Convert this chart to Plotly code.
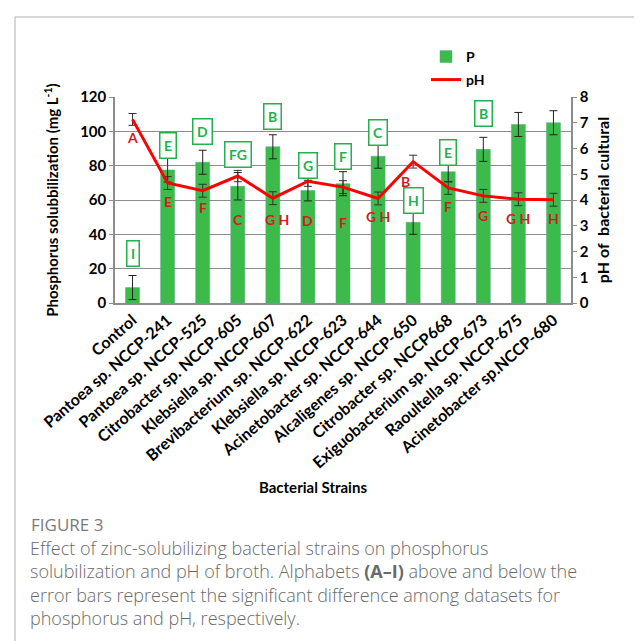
import plotly.graph_objects as go

strains = ["Control", "Pantoea sp. NCCP-241", "Pantoea sp. NCCP-525", "Citrobacter sp. NCCP-605",
           "Klebsiella sp. NCCP-607", "Brevibacterium sp. NCCP-622", "Klebsiella sp. NCCP-623",
           "Acinetobacter sp. NCCP-644", "Alcaligenes sp. NCCP-650", "Citrobacter sp. NCCP668",
           "Exiguobacterium sp. NCCP-673", "Raoultella sp. NCCP-675", "Acinetobacter sp.NCCP-680"]
p_values = [9, 77.5, 82, 68, 91, 65.5, 69.5, 85.5, 47, 76.5, 89.5, 104, 105]
p_err = [7, 7, 7, 8, 7, 6, 7, 7, 7, 6, 7, 7, 7]
ph_values = [7.13, 4.66, 4.36, 4.93, 4.07, 4.73, 4.50, 4.06, 5.49, 4.47, 4.16, 4.03, 4.01]
ph_err = [0.23, 0.25, 0.25, 0.22, 0.25, 0.2, 0.25, 0.25, 0.25, 0.25, 0.25, 0.25, 0.25]
p_letters = ["I", "E", "D", "FG", "B", "G", "F", "C", "H", "E", "B", "A", "A"]
ph_letters = ["A", "E", "F", "C", "G H", "D", "F", "G H", "B", "F", "G", "G H", "H"]

# label placement (styling): gap above P error bar top (P units), label height for pH letters (pH units)
p_label_gap = [13, 7.5, 10.8, 10.5, 10.5, 8.5, 9, 7, 6, 5, 13.8, 10.6, 8.3]
ph_label_y = [6.42, 3.93, 3.7, 3.24, 3.24, 3.22, 3.11, 3.37, 4.71, 3.74, 3.41, 3.29, 3.27]
ph_label_xshift = [0, 0, 0, 0, 4, 0, 0, 0, -8, 0, 0, 0, 0]

FONT = "Lato"
GREEN = "#3cbb4b"
LGREEN = "#22b14c"
RED = "#d01c1c"

fig = go.Figure()
fig.add_trace(go.Bar(
    x=strains, y=p_values, name="P", legend="legend",
    marker=dict(color=GREEN, line=dict(color="#5aa88a", width=0.5)),
    error_y=dict(type="data", array=p_err, color="#222222", thickness=1, width=4),
))
fig.add_trace(go.Scatter(
    x=strains, y=ph_values, name="pH", yaxis="y2", mode="lines", legend="legend2",
    line=dict(color="#ff0000", width=3),
    error_y=dict(type="data", array=ph_err, color="#333333", thickness=1, width=4),
))

annotations = []
for s, v, e, g, t in zip(strains, p_values, p_err, p_label_gap, p_letters):
    annotations.append(dict(
        x=s, y=v + e + g, xref="x", yref="y", text=t, showarrow=False,
        font=dict(family=FONT, size=14, color=LGREEN, weight="bold"),
        bordercolor=LGREEN, borderwidth=1.5, borderpad=3.5, bgcolor="white",
    ))
for s, yv, xs, t in zip(strains, ph_label_y, ph_label_xshift, ph_letters):
    annotations.append(dict(
        x=s, y=yv, xref="x", yref="y2", text=t, showarrow=False, xshift=xs,
        font=dict(family=FONT, size=14, color=RED, weight="bold"),
    ))

L, R, T, B = 107, 563, 89, 295
W = R - L
H = B - T


def px(x):
    return (x - L) / W


def py(y):
    return (B - y) / H


annotations.append(dict(
    x=px(305), y=py(479), xref="paper", yref="paper", text="<b>Bacterial Strains</b>",
    xanchor="center", yanchor="middle",
    showarrow=False, font=dict(family=FONT, size=15, color="black"),
))
annotations.append(dict(
    x=px(21), y=py(516), xref="paper", yref="paper", text="FIGURE 3", xanchor="left",
    yanchor="middle", showarrow=False,
    font=dict(family="Open Sans", size=17, color="#7a7a7a"),
))
caption_lines = ["Effect of zinc-solubilizing bacterial strains on phosphorus",
                 "solubilization and pH of broth. Alphabets <b>(A\u2013I)</b> above and below the",
                 "error bars represent the significant difference among datasets for",
                 "phosphorus and pH, respectively."]
annotations.append(dict(
    x=px(20), y=py(526), xref="paper", yref="paper", text="<br>".join(caption_lines),
    xanchor="left", yanchor="top", align="left", showarrow=False,
    font=dict(family="Open Sans", size=18, color="#6a6a6a", weight=300),
))

shapes = [
    dict(type="line", xref="paper", yref="paper", x0=px(7), x1=px(7), y0=py(9), y1=py(641),
         line=dict(color="#c8c8c8", width=1.5)),
    dict(type="line", xref="paper", yref="paper", x0=px(7), x1=px(642), y0=py(9), y1=py(9),
         line=dict(color="#c8c8c8", width=1.5)),
]

legend_font = dict(family=FONT, size=14, color="black", weight="bold")
fig.update_layout(
    width=642, height=641,
    margin=dict(l=L, r=642 - R, t=T, b=641 - B),
    paper_bgcolor="white", plot_bgcolor="white",
    bargap=0.6,
    font=dict(family=FONT, color="black"),
    showlegend=True,
    legend=dict(x=px(418), y=py(49), xanchor="left", yanchor="middle",
                font=legend_font, bgcolor="rgba(0,0,0,0)"),
    legend2=dict(x=px(418), y=py(72), xanchor="left", yanchor="middle",
                 font=legend_font, bgcolor="rgba(0,0,0,0)"),
    xaxis=dict(
        tickangle=-41, tickfont=dict(family=FONT, size=16, color="black", weight="bold"),
        showline=True, linecolor="#8c8c8c", linewidth=1.5, ticks="", mirror=False,
        range=[-0.5, 12.5],
    ),
    yaxis=dict(
        range=[0, 120], dtick=20, showgrid=True, gridcolor="#8c8c8c", gridwidth=1.3,
        zeroline=False, showline=True, linecolor="#8c8c8c", linewidth=1.5,
        ticks="outside", ticklen=4, tickcolor="#8c8c8c",
        tickfont=dict(family=FONT, size=15, color="black", weight="bold"),
        title=dict(text="Phosphorus solubbilization (mg L<sup>-1</sup>)",
                   font=dict(family=FONT, size=15, color="black", weight="bold"), standoff=18),
    ),
    yaxis2=dict(
        overlaying="y", side="right", range=[0, 8], dtick=1, showgrid=False, zeroline=False,
        showline=True, linecolor="#8c8c8c", linewidth=1.5,
        ticks="outside", ticklen=4, tickcolor="#8c8c8c",
        tickfont=dict(family=FONT, size=15, color="black", weight="bold"),
        title=dict(text="pH of  bacterial cultural",
                   font=dict(family=FONT, size=16, color="black", weight="bold"), standoff=10),
    ),
    annotations=annotations,
    shapes=shapes,
)

fig.write_html("out.html")
